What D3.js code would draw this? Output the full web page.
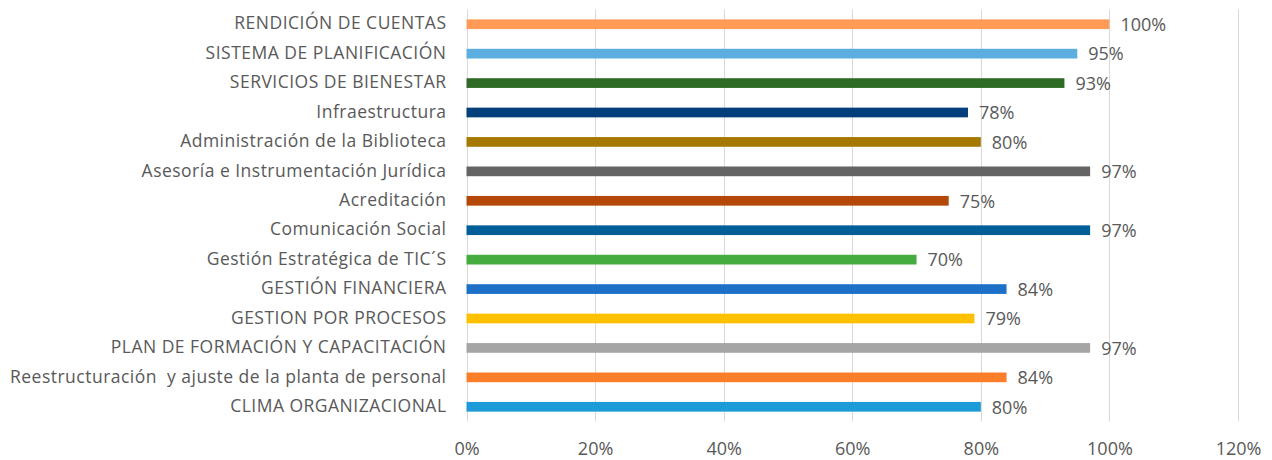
<!DOCTYPE html>
<html>
<head>
<meta charset="utf-8">
<script src="https://cdn.jsdelivr.net/npm/d3@7"></script>
<style>
  html, body { margin: 0; padding: 0; background: #fff; }
  svg { display: block; }
  text { font-family: "Open Sans", sans-serif; fill: #595959; }
</style>
</head>
<body>
<svg id="chart" width="1272" height="460"></svg>
<script>
const categories = [
  "RENDICIÓN DE CUENTAS",
  "SISTEMA DE PLANIFICACIÓN",
  "SERVICIOS DE BIENESTAR",
  "Infraestructura",
  "Administración de la Biblioteca",
  "Asesoría e Instrumentación Jurídica",
  "Acreditación",
  "Comunicación Social",
  "Gestión Estratégica de TIC´S",
  "GESTIÓN FINANCIERA",
  "GESTION POR PROCESOS",
  "PLAN DE FORMACIÓN Y CAPACITACIÓN",
  "Reestructuración  y ajuste de la planta de personal",
  "CLIMA ORGANIZACIONAL"
];
const values = [1.00, 0.95, 0.93, 0.78, 0.80, 0.97, 0.75, 0.97, 0.70, 0.84, 0.79, 0.97, 0.84, 0.80];
const colors = ["#FF9B57", "#5CAEE0", "#2E6B24", "#033F7A", "#A57800", "#646464", "#B4470A",
                "#005E99", "#45AD40", "#1C70C8", "#FFC000", "#A5A5A5", "#FC7E2A", "#1C9BD8"];
const xTicks = [0, 0.2, 0.4, 0.6, 0.8, 1.0, 1.2];

const svg = d3.select("#chart");
const W = 1272, H = 460;
const margin = { left: 466.5, right: W - 1238, top: 9.5, bottom: H - 421.5 };
const FONT = "'Open Sans', sans-serif";
const catSize = 17.5;
const valSize = 18;

// letter spacing so the longest category label spans the reference width (~436px)
const probe = svg.append("text").style("font-family", FONT).style("font-size", catSize + "px")
  .style("white-space", "pre").text(categories[12]);
const wLong = probe.node().getComputedTextLength();
probe.remove();
const letterSp = Math.max(0, (436 - wLong) / (categories[12].length - 1));

const x = d3.scaleLinear().domain([0, 1.2]).range([margin.left, W - margin.right]);
const y = d3.scaleBand().domain(categories).range([margin.top, H - margin.bottom])
  .paddingInner(0.67).paddingOuter(0.335);
const fmt = d3.format(".0%");

// gridlines
svg.append("g")
  .selectAll("line")
  .data(xTicks)
  .join("line")
  .attr("x1", d => Math.round(x(d)) + 0.5)
  .attr("x2", d => Math.round(x(d)) + 0.5)
  .attr("y1", margin.top)
  .attr("y2", H - margin.bottom)
  .attr("stroke", "#d9d9d9")
  .attr("stroke-width", 1);

// x axis tick labels
const xAxis = d3.axisBottom(x).tickValues(xTicks).tickFormat(fmt).tickSize(0).tickPadding(0);
const gx = svg.append("g").attr("transform", `translate(0,454.5)`).call(xAxis);
gx.select(".domain").remove();
gx.selectAll("text")
  .style("font-family", FONT)
  .style("font-size", valSize + "px")
  .attr("fill", "#595959")
  .attr("y", 0)
  .attr("dy", "0");

// y axis labels
const yAxis = d3.axisLeft(y).tickSize(0).tickPadding(20);
const gy = svg.append("g").attr("transform", `translate(${margin.left},0)`).call(yAxis);
gy.select(".domain").remove();
gy.selectAll("text")
  .style("font-family", FONT)
  .style("font-size", catSize + "px")
  .style("white-space", "pre")
  .style("letter-spacing", letterSp + "px")
  .attr("fill", "#595959")
  .attr("dy", "0.3em");

// bars
svg.append("g")
  .selectAll("rect")
  .data(categories)
  .join("rect")
  .attr("x", x(0))
  .attr("y", d => y(d))
  .attr("width", (d, i) => x(values[i]) - x(0))
  .attr("height", y.bandwidth())
  .attr("fill", (d, i) => colors[i]);

// value labels
svg.append("g")
  .selectAll("text")
  .data(categories)
  .join("text")
  .attr("x", (d, i) => x(values[i]) + 11)
  .attr("y", d => y(d) + y.bandwidth() / 2)
  .attr("dy", "0.38em")
  .style("font-size", valSize + "px")
  .text((d, i) => fmt(values[i]));
</script>
</body>
</html>
